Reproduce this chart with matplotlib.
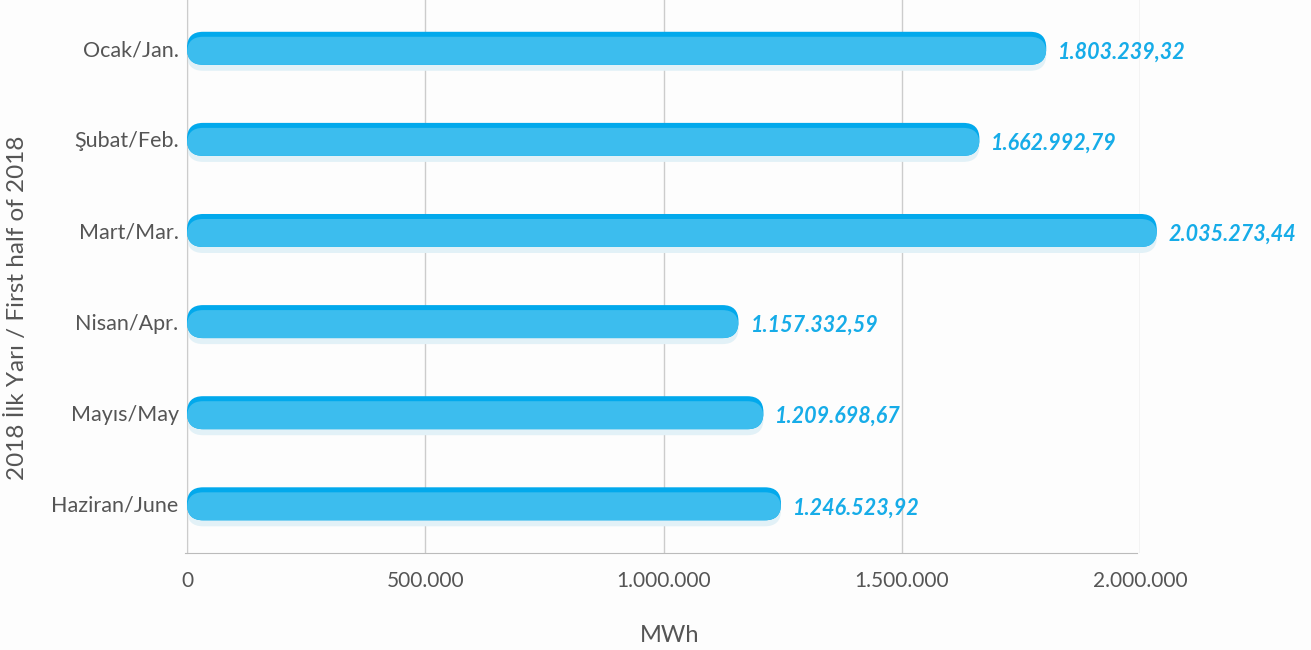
import matplotlib.pyplot as plt
from matplotlib.patches import FancyBboxPatch

months = ['Ocak/Jan.', 'Şubat/Feb.', 'Mart/Mar.', 'Nisan/Apr.', 'Mayıs/May', 'Haziran/June']
values = [1803239.32, 1662992.79, 2035273.44, 1157332.59, 1209698.67, 1246523.92]
xticks = [0, 500000, 1000000, 1500000, 2000000]


def tr_fmt(v, dec=2):
    s = f'{v:,.{dec}f}'
    return s.replace(',', '#').replace('.', ',').replace('#', '.')


plt.rcParams['font.family'] = ['Lato', 'DejaVu Sans']

W, H = 1311, 650
fig = plt.figure(figsize=(W / 100, H / 100), dpi=100, facecolor='#fdfdfd')
# axes placed in pixels: x 187..1140, y 0..553
ax = fig.add_axes([187 / W, 1 - 553 / H, (1140 - 187) / W, 553 / H])
ax.set_facecolor('#fdfdfd')

xmin, xmax = 0, 2000000
ymin, ymax = 5.54, -0.53
ax.set_xlim(xmin, xmax)
ax.set_ylim(ymin, ymax)

xpp = (xmax - xmin) / (1140 - 187)   # data units per pixel in x
ypp = (ymin - ymax) / 553            # data units per pixel in y
aspect = ypp / xpp

bar_h = 33 * ypp
rad = 16 * xpp

for i, v in enumerate(values):
    top = i - bar_h / 2
    # soft shadow under the bar
    sh = FancyBboxPatch((0, top + 6 * ypp), v, bar_h, boxstyle=f'round,pad=0,rounding_size={rad}',
                        mutation_aspect=aspect, fc='#e2f1f7', ec='none', zorder=2, clip_on=False)
    ax.add_patch(sh)
    # dark top edge
    dk = FancyBboxPatch((0, top), v, bar_h, boxstyle=f'round,pad=0,rounding_size={rad}',
                        mutation_aspect=aspect, fc='#02a9ec', ec='none', zorder=3, clip_on=False)
    ax.add_patch(dk)
    # main lighter face
    lt = FancyBboxPatch((0, top + 5 * ypp), v, bar_h - 5 * ypp, boxstyle=f'round,pad=0,rounding_size={rad}',
                        mutation_aspect=aspect, fc='#3cbdee', ec='none', zorder=4, clip_on=False)
    ax.add_patch(lt)
    ax.text(v + 12 * xpp, i + 4 * ypp, tr_fmt(v), color='#16ace8', fontsize=15.5,
            fontweight='bold', fontstyle='italic', va='center', ha='left', zorder=5)

ax.set_yticks(range(len(months)))
ax.set_yticklabels(months)
ax.set_xticks(xticks)
ax.set_xticklabels([tr_fmt(t, 0) for t in xticks])
ax.tick_params(axis='both', length=0, colors='#555555')
ax.tick_params(axis='x', pad=13, labelsize=15)
ax.tick_params(axis='y', pad=6, labelsize=15.5)

ax.grid(axis='x', color='#cccccc', lw=1, zorder=1)
for s in ['top', 'right']:
    ax.spines[s].set_visible(False)
ax.spines['left'].set_color('#cccccc')
ax.spines['bottom'].set_color('#bbbbbb')
ax.spines['bottom'].set_bounds(xmin - 2 * xpp, 1993 * 1000)

fig.text(670 / W, 1 - 635 / H, 'MWh', ha='center', va='center', fontsize=17, color='#555555')
fig.text(17 / W, 1 - 308 / H, '2018 İlk Yarı / First half of 2018', rotation=90,
         ha='center', va='center', fontsize=17.5, color='#555555')

fig.savefig('out.png', dpi=100, facecolor=fig.get_facecolor())
